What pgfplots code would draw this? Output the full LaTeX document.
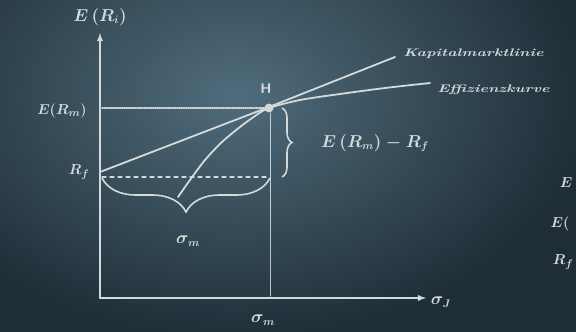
\documentclass[border=0pt]{standalone}
\usepackage{pgfplots}
\pgfplotsset{compat=1.18}
\usetikzlibrary{decorations.pathreplacing}

\definecolor{boarddark}{RGB}{30,45,54}
\definecolor{boardlight}{RGB}{80,108,124}
\definecolor{chalk}{RGB}{212,218,218}
\tikzset{hand/.style={text=chalk, inner sep=0pt}}

\begin{document}
\begin{tikzpicture}
\begin{axis}[
    name=board,
    scale only axis,
    width=576pt, height=332pt,
    xmin=0, xmax=576, ymin=0, ymax=332,
    y dir=reverse,
    axis lines=none, ticks=none,
    cycle list={{chalk, no markers}},
    every axis plot/.append style={line width=1.8pt, line cap=round, line join=round},
]
% board
\fill[boarddark] (axis cs:0,0) rectangle (axis cs:576,332);
\shade[inner color=boardlight, outer color=boarddark] (axis cs:235,95) ellipse [x radius=360pt, y radius=250pt];

% axes
\addplot[chalk, -latex] coordinates {(100,298) (100,33)};
\addplot[chalk, -latex] coordinates {(100,298) (426,298)};

% helper lines
\addplot[chalk, line width=1.2pt, densely dotted] coordinates {(102,108) (266,108)};
\addplot[chalk, line width=1.2pt, dash pattern=on 4pt off 4pt] coordinates {(102,177) (268,177)};
\addplot[chalk, line width=1.0pt, densely dotted] coordinates {(270,113) (270,296)};

% Kapitalmarktlinie
\addplot[chalk] coordinates {(100,172) (269,107) (395,57)};
% Effizienzkurve
\addplot[chalk, smooth] coordinates {(178,197) (190,180) (205,160) (222,142) (240,127) (255,116) (269,108) (300,100) (340,94) (385,88) (430,83)};
% Tangentialpunkt
\addplot[chalk, only marks, mark=*, mark size=3.5pt] coordinates {(269,108)};

% braces
\draw[chalk, line width=1.6pt, decorate, decoration={brace, amplitude=10pt}] (axis cs:282,108) -- (axis cs:282,177);
\draw[chalk, line width=1.6pt, decorate, decoration={brace, amplitude=34pt}] (axis cs:270,178) -- (axis cs:102,178);

% labels
\node[hand, font=\boldmath\fontsize{16}{17}\selectfont] at (axis cs:100,17) {$E\,(R_i)$};
\node[hand, font=\boldmath\fontsize{15}{16}\selectfont] at (axis cs:62,111) {$E(R_m)$};
\node[hand, font=\boldmath\fontsize{15}{16}\selectfont] at (axis cs:79,172) {$R_f$};
\node[hand, font=\sffamily\bfseries\fontsize{14}{15}\selectfont] at (axis cs:266,89) {H};
\node[hand, font=\boldmath\fontsize{16}{17}\selectfont] at (axis cs:375,143) {$E\,(R_m) - R_f$};
\node[hand, font=\boldmath\fontsize{16}{17}\selectfont] at (axis cs:188,241) {$\sigma_m$};
\node[hand, font=\boldmath\fontsize{16}{17}\selectfont] at (axis cs:263,320) {$\sigma_m$};
\node[hand, font=\boldmath\fontsize{16}{17}\selectfont] at (axis cs:441,302) {$\sigma_J$};
\node[hand, font=\bfseries\itshape\fontsize{11}{12}\selectfont, xscale=1.45, transform shape, anchor=west] at (axis cs:403,54) {Kapitalmarktlinie};
\node[hand, font=\bfseries\itshape\fontsize{11}{12}\selectfont, xscale=1.45, transform shape, anchor=west] at (axis cs:437,90) {Effizienzkurve};

% text visible at the right board edge
\node[hand, font=\boldmath\fontsize{15}{16}\selectfont] at (axis cs:566,183) {$E$};
\node[hand, font=\boldmath\fontsize{15}{16}\selectfont] at (axis cs:560,224) {$E($};
\node[hand, font=\boldmath\fontsize{15}{16}\selectfont] at (axis cs:563,262) {$R_f$};
\end{axis}
\pgfresetboundingbox
\useasboundingbox (board.south west) rectangle (board.north east);
\end{tikzpicture}
\end{document}
